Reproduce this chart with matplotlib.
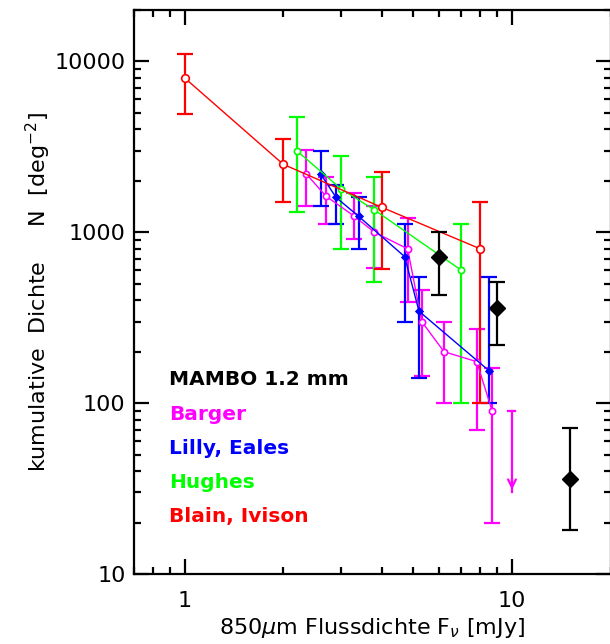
import matplotlib
matplotlib.use("Agg")
import matplotlib.pyplot as plt
from matplotlib.ticker import LogLocator, NullFormatter, FuncFormatter

# Blain, Ivison
red_x = [1.0, 2.0, 4.0, 8.0]
red_y = [8000, 2500, 1400, 800]
red_hi = [11000, 3500, 2250, 1500]
red_lo = [4900, 1500, 610, 100]

# Hughes
green_x = [2.2, 3.0, 3.8, 7.0]
green_y = [3000, 1800, 1350, 600]
green_hi = [4750, 2800, 2100, 1120]
green_lo = [1320, 800, 510, 100]

# Lilly, Eales
blue_x = [2.6, 2.9, 3.4, 4.7, 5.2, 8.5]
blue_y = [2200, 1600, 1240, 720, 345, 155]
blue_hi = [3000, 1900, 1600, 1120, 550, 550]
blue_lo = [1430, 1120, 800, 300, 140, 100]

# Barger
mag_x = [2.35, 2.7, 3.3, 3.8, 4.8, 5.3, 6.2, 7.8, 8.7]
mag_y = [2200, 1630, 1240, 1000, 800, 300, 200, 175, 90]
mag_hi = [3050, 2120, 1700, 1430, 1210, 460, 300, 270, 160]
mag_lo = [1430, 1120, 910, 620, 390, 145, 100, 70, 20]

# Barger upper limit
lim_x = 10.0
lim_top = 90
lim_tip = 30

# MAMBO 1.2 mm
mambo_x = [6.0, 9.0, 15.0]
mambo_y = [720, 360, 36]
mambo_hi = [1000, 510, 72]
mambo_lo = [430, 220, 18]

legend_labels = ["MAMBO 1.2 mm", "Barger", "Lilly, Eales", "Hughes", "Blain, Ivison"]
legend_colors = ["black", "#ff00ff", "#0000ff", "#00ff00", "#ff0000"]

W, H = 610, 644
fig = plt.figure(figsize=(W / 100, H / 100), dpi=100)
ax = fig.add_axes([134 / W, (H - 574) / H, 476.5 / W, 564 / H])
ax.set_xscale("log")
ax.set_yscale("log")
ax.set_xlim(0.7, 20)
ax.set_ylim(10, 20000)


def series(x, y, hi, lo, color, marker, ms, mfc, lw=1.0):
    yerr = [[v - l for v, l in zip(y, lo)], [h - v for v, h in zip(y, hi)]]
    ax.errorbar(x, y, yerr=yerr, fmt="none", ecolor=color, elinewidth=1.6,
                capsize=5.5, capthick=1.6, zorder=2)
    ax.plot(x, y, color=color, lw=lw, marker=marker, ms=ms,
            mfc=mfc, mec=color, mew=1.2, zorder=3)


series(mag_x, mag_y, mag_hi, mag_lo, "#ff00ff", "o", 4.5, "white")
series(blue_x, blue_y, blue_hi, blue_lo, "#0000ff", "D", 3.5, "#0000ff")
series(green_x, green_y, green_hi, green_lo, "#00ff00", "o", 4.5, "white")
series(red_x, red_y, red_hi, red_lo, "#ff0000", "o", 5.5, "white")

# upper limit arrow
ax.plot([lim_x, lim_x], [lim_top, lim_tip], color="#ff00ff", lw=1.6, zorder=2)
ax.plot([lim_x / 1.025, lim_x * 1.025], [lim_top, lim_top], color="#ff00ff", lw=1.6)
ax.annotate("", xy=(lim_x, lim_tip), xytext=(lim_x, lim_tip * 1.25),
            arrowprops=dict(arrowstyle="->", color="#ff00ff", lw=1.6,
                            mutation_scale=14))

# MAMBO points
m_err = [[v - l for v, l in zip(mambo_y, mambo_lo)],
         [h - v for v, h in zip(mambo_y, mambo_hi)]]
ax.errorbar(mambo_x, mambo_y, yerr=m_err, fmt="D", color="black", ms=8,
            elinewidth=1.6, capsize=5.5, capthick=1.6, zorder=4)

# legend text
for i, (lab, col) in enumerate(zip(legend_labels, legend_colors)):
    ax.text(0.0735, 0.344 - i * 0.0605, lab, color=col, fontsize=14.5,
            fontweight="bold", transform=ax.transAxes, va="center", ha="left")

for s in ax.spines.values():
    s.set_linewidth(1.6)

ax.xaxis.set_major_locator(LogLocator(base=10, numticks=10))
ax.xaxis.set_minor_locator(LogLocator(base=10, subs=range(2, 10), numticks=20))
ax.xaxis.set_minor_formatter(NullFormatter())
ax.xaxis.set_major_formatter(FuncFormatter(lambda v, p: f"{v:g}"))
ax.yaxis.set_major_locator(LogLocator(base=10, numticks=10))
ax.yaxis.set_minor_locator(LogLocator(base=10, subs=range(2, 10), numticks=20))
ax.yaxis.set_minor_formatter(NullFormatter())
ax.yaxis.set_major_formatter(FuncFormatter(lambda v, p: f"{v:.0f}"))

ax.tick_params(which="both", direction="in", top=True, right=True, width=1.6)
ax.tick_params(which="major", length=11)
ax.tick_params(which="minor", length=5)
ax.tick_params(axis="y", labelsize=16, pad=6)
ax.tick_params(axis="x", labelsize=16, pad=12)

ax.set_xlabel(r"850$\mu$m Flussdichte F$_\nu$ [mJy]", fontsize=16, va="top")
ax.xaxis.set_label_coords(0.5, -0.074)
ax.set_ylabel(r"kumulative  Dichte     N  [deg$^{-2}$]", fontsize=16, va="center")
ax.yaxis.set_label_coords(-0.2, 0.5)

fig.savefig("out.png", dpi=100)
